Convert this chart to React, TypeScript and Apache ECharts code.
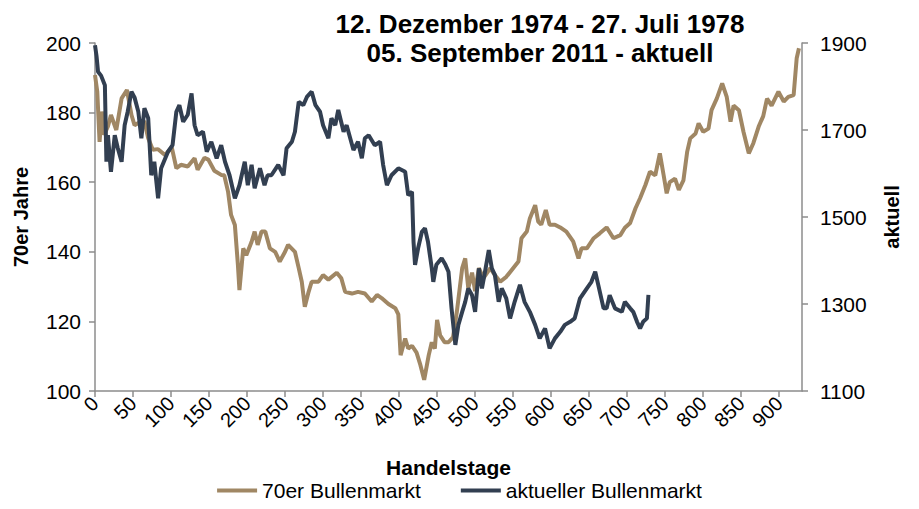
import React, { useEffect, useRef } from "react";
import * as echarts from "echarts";

const titleLines = ["12. Dezember 1974 - 27. Juli 1978", "05. September 2011 - aktuell"];
const seriesNames = ["70er Bullenmarkt", "aktueller Bullenmarkt"];
const xTicks = [0, 50, 100, 150, 200, 250, 300, 350, 400, 450, 500, 550, 600, 650, 700, 750, 800, 850, 900];

const tanDays = [0, 3, 6, 9, 12, 17, 21, 28, 35, 42, 48, 52, 57, 65, 70, 76, 83, 92, 101, 107, 113, 122, 131, 135, 144, 149, 157, 166, 170, 175, 179, 184, 188, 190, 195, 199, 206, 210, 214, 219, 224, 230, 237, 243, 250, 254, 263, 268, 272, 276, 281, 285, 294, 300, 307, 318, 324, 329, 338, 346, 355, 364, 371, 377, 386, 395, 399, 402, 408, 412, 417, 423, 428, 433, 439, 443, 447, 450, 454, 460, 465, 471, 476, 483, 487, 491, 496, 500, 505, 511, 520, 526, 533, 541, 550, 557, 561, 568, 572, 579, 583, 587, 593, 598, 605, 612, 620, 629, 636, 640, 647, 656, 664, 673, 682, 691, 697, 704, 711, 717, 724, 730, 737, 743, 748, 752, 756, 763, 768, 774, 779, 783, 790, 794, 800, 807, 811, 818, 825, 831, 836, 840, 847, 853, 860, 866, 873, 879, 884, 890, 899, 906, 912, 919, 923, 926];
const tanValues = [190.8, 186, 171.6, 180.3, 173.6, 176, 179.3, 175, 184.1, 186.5, 179.3, 176.4, 177, 177.5, 172.6, 169.3, 169.5, 167.8, 170, 164, 165, 164.5, 166.9, 163.6, 167, 166.5, 163.3, 162.1, 162, 157.3, 150.6, 147.7, 136.2, 129, 141, 139, 142.9, 145.8, 142, 145.8, 145.8, 141, 140, 137.2, 140, 142, 140, 135.3, 131.4, 124.2, 128.5, 131.4, 131.4, 133.3, 132, 134, 132.4, 128.5, 128, 128.5, 128, 125.7, 127.6, 126.7, 125, 123.8, 122, 110.3, 115.1, 112.2, 113, 111, 107.5, 103.2, 110.3, 114, 112.2, 120.4, 116, 114, 114, 115.5, 122.8, 135.3, 138.1, 129.5, 134, 128.7, 135.3, 132.4, 135.3, 133.3, 131.4, 132.8, 135.3, 137.2, 143.9, 145.8, 149.6, 153.4, 148.7, 147.8, 152, 147.8, 147.8, 147, 145.8, 143, 138.1, 141, 141, 143.9, 145.3, 147, 143.9, 144.8, 146.9, 148.3, 152.5, 155.4, 159.2, 163, 162, 168.3, 162, 156.8, 160, 161, 157.8, 160.5, 168.8, 172.6, 174, 176.9, 174.5, 175.4, 180.7, 184.1, 188.4, 184.5, 177.4, 182, 180.7, 174.5, 168.3, 171.2, 176, 179, 184, 182, 186, 183.2, 184.5, 185, 195.6, 198.5];

const navyDays = [0, 2, 4, 8, 13, 15, 17, 21, 26, 30, 35, 39, 43, 48, 52, 57, 61, 65, 70, 74, 78, 83, 87, 96, 102, 107, 111, 116, 122, 127, 131, 135, 142, 147, 153, 160, 166, 171, 177, 184, 190, 197, 201, 206, 210, 217, 223, 227, 232, 241, 248, 252, 259, 263, 268, 274, 279, 285, 290, 296, 300, 307, 311, 316, 320, 327, 331, 340, 346, 351, 355, 360, 368, 375, 379, 384, 390, 399, 408, 412, 417, 419, 421, 425, 430, 434, 438, 443, 445, 449, 456, 461, 465, 469, 474, 478, 483, 487, 491, 496, 500, 505, 509, 513, 518, 522, 526, 531, 535, 541, 546, 552, 559, 565, 572, 579, 585, 592, 598, 605, 612, 618, 625, 631, 638, 647, 653, 658, 662, 669, 673, 677, 684, 693, 697, 704, 708, 713, 717, 721, 726, 728];
const navyValues = [1895, 1870, 1834, 1825, 1803, 1627, 1688, 1604, 1688, 1658, 1627, 1711, 1742, 1788, 1775, 1742, 1681, 1750, 1727, 1596, 1627, 1543, 1612, 1650, 1665, 1742, 1757, 1719, 1735, 1784, 1711, 1688, 1696, 1650, 1673, 1635, 1665, 1627, 1596, 1543, 1573, 1627, 1573, 1620, 1566, 1612, 1573, 1596, 1596, 1620, 1596, 1658, 1673, 1696, 1765, 1757, 1777, 1788, 1757, 1742, 1711, 1681, 1727, 1711, 1746, 1696, 1711, 1654, 1673, 1635, 1681, 1688, 1665, 1673, 1620, 1573, 1596, 1612, 1604, 1550, 1558, 1443, 1390, 1428, 1466, 1474, 1443, 1382, 1351, 1390, 1405, 1390, 1374, 1290, 1206, 1252, 1282, 1305, 1336, 1320, 1282, 1382, 1336, 1374, 1424, 1382, 1367, 1305, 1336, 1313, 1267, 1305, 1344, 1305, 1282, 1252, 1221, 1244, 1198, 1221, 1236, 1252, 1259, 1267, 1313, 1336, 1351, 1374, 1344, 1290, 1290, 1320, 1290, 1282, 1305, 1290, 1282, 1259, 1244, 1259, 1267, 1321];

const TAN = "#A08764";
const NAVY = "#323F51";
const AXIS = "#8C8C8C";
const FONT = "'Liberation Sans', Arial, sans-serif";

export default function App() {
  const ref = useRef<HTMLDivElement>(null);
  useEffect(() => {
    if (!ref.current) return;
    const chart = echarts.init(ref.current, undefined, { renderer: "svg" });
    const tanData = tanDays.map((d, i) => [d, tanValues[i]]);
    const navyData = navyDays.map((d, i) => [d, navyValues[i]]);
    chart.setOption({
      animation: false,
      backgroundColor: "#ffffff",
      textStyle: { fontFamily: FONT },
      title: {
        text: titleLines.join("\n"),
        left: 535,
        top: 4,
        textAlign: "center",
        textStyle: { fontFamily: FONT, fontWeight: "bold", fontSize: 26, lineHeight: 29, color: "#000" },
      },
      grid: { left: 95, right: 117, top: 43, bottom: 118, containLabel: false },
      legend: {
        bottom: 3,
        left: "center",
        icon: "rect",
        itemWidth: 40,
        itemHeight: 4,
        itemGap: 40,
        textStyle: { fontFamily: FONT, fontSize: 21, color: "#000" },
        data: seriesNames,
      },
      xAxis: {
        type: "value",
        min: 0,
        max: 930,
        interval: 50,
        name: "Handelstage",
        nameLocation: "middle",
        nameGap: 66,
        nameTextStyle: { fontFamily: FONT, fontWeight: "bold", fontSize: 21, color: "#000" },
        axisLine: { show: true, lineStyle: { color: AXIS, width: 1.5 } },
        axisTick: { show: true, length: 6, lineStyle: { color: AXIS, width: 1.5 }, customValues: xTicks },
        axisLabel: { rotate: 45, margin: 9, fontSize: 20, color: "#000", fontFamily: FONT, customValues: xTicks },
        splitLine: { show: false },
      },
      yAxis: [
        {
          type: "value",
          min: 100,
          max: 200,
          interval: 20,
          position: "left",
          name: "70er Jahre",
          nameLocation: "middle",
          nameGap: 64,
          nameRotate: 90,
          nameTextStyle: { fontFamily: FONT, fontWeight: "bold", fontSize: 20, color: "#000" },
          axisLine: { show: true, lineStyle: { color: AXIS, width: 1.5 } },
          axisTick: { show: true, length: 6, lineStyle: { color: AXIS, width: 1.5 } },
          axisLabel: { margin: 14, fontSize: 21, color: "#000", fontFamily: FONT, formatter: (v: number) => String(v) },
          splitLine: { show: false },
        },
        {
          type: "value",
          min: 1100,
          max: 1900,
          interval: 200,
          position: "right",
          name: "aktuell",
          nameLocation: "middle",
          nameGap: 80,
          nameRotate: 90,
          nameTextStyle: { fontFamily: FONT, fontWeight: "bold", fontSize: 20, color: "#000" },
          axisLine: { show: true, lineStyle: { color: AXIS, width: 1.5 } },
          axisTick: { show: true, length: 6, lineStyle: { color: AXIS, width: 1.5 } },
          axisLabel: { margin: 18, fontSize: 21, color: "#000", fontFamily: FONT, formatter: (v: number) => String(v) },
          splitLine: { show: false },
        },
      ],
      series: [
        {
          name: seriesNames[0],
          type: "line",
          yAxisIndex: 0,
          data: tanData,
          showSymbol: false,
          symbol: "none",
          color: TAN,
          lineStyle: { color: TAN, width: 4 },
        },
        {
          name: seriesNames[1],
          type: "line",
          yAxisIndex: 1,
          data: navyData,
          showSymbol: false,
          symbol: "none",
          color: NAVY,
          lineStyle: { color: NAVY, width: 4 },
        },
      ],
    });
    return () => chart.dispose();
  }, []);
  return <div ref={ref} style={{ position: "fixed", left: 0, top: 0, width: 919, height: 509 }} />;
}
